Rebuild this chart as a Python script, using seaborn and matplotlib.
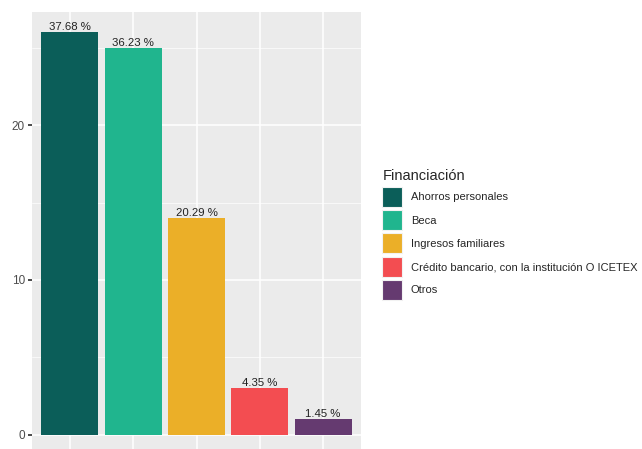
import pandas as pd
import matplotlib.pyplot as plt
import matplotlib.patches as mpatches
from matplotlib.ticker import MultipleLocator
import seaborn as sns

# datos
categorias = ["Ahorros personales", "Beca", "Ingresos familiares",
              "Crédito bancario, con la institución O ICETEX", "Otros"]
conteos = [26, 25, 14, 3, 1]
etiquetas = ["37.68 %", "36.23 %", "20.29 %", "4.35 %", "1.45 %"]
colores = ["#0B5E59", "#20B58E", "#EBAF28", "#F34D51", "#653A70"]

df = pd.DataFrame({"Financiación": categorias, "n": conteos})

sns.set_theme(style="darkgrid")
plt.rcParams["font.family"] = ["Liberation Sans", "DejaVu Sans"]

fig = plt.figure(figsize=(6.42, 4.49), dpi=100)
ax = fig.add_axes([32 / 642, -6 / 449, 329 / 642, 443 / 449])

sns.barplot(data=df, x="Financiación", y="n", hue="Financiación",
            palette=colores, order=categorias, hue_order=categorias,
            width=0.9, dodge=False, legend=False, ax=ax,
            edgecolor="none", saturation=1)

for cont, lab in zip(ax.containers, etiquetas):
    ax.bar_label(cont, labels=[lab], fontsize=8.2, color="#222222", padding=0)

ax.set_facecolor("#EBEBEB")
ax.set_xlim(-0.6, 4.6)
ax.set_ylim(-1.3, 27.3)
ax.yaxis.set_major_locator(MultipleLocator(10))
ax.yaxis.set_minor_locator(MultipleLocator(5))
ax.grid(which="major", color="white", linewidth=1.1)
ax.grid(which="minor", axis="y", color="white", linewidth=0.5)
ax.set_axisbelow(True)
for s in ax.spines.values():
    s.set_visible(False)
ax.set_xlabel("")
ax.set_ylabel("")
ax.set_xticklabels([])
ax.tick_params(axis="y", which="major", length=3, color="#333333",
               labelsize=8.5, labelcolor="#4D4D4D", pad=2, left=True)
ax.tick_params(axis="y", which="minor", length=0)
ax.tick_params(axis="x", length=0)

handles = [mpatches.Patch(facecolor=c, edgecolor="#F2F2F2", linewidth=0.8)
           for c in colores]
leg = fig.legend(handles, categorias, title="Financiación",
                 loc="upper left", bbox_to_anchor=(378 / 642, 1 - 165 / 449),
                 frameon=False, fontsize=8, title_fontsize=10.5,
                 handlelength=1.8, handleheight=2.39, handletextpad=0.75,
                 labelspacing=0.3, borderaxespad=0)
leg._legend_box.align = "left"

fig.savefig("out.png", dpi=100)
